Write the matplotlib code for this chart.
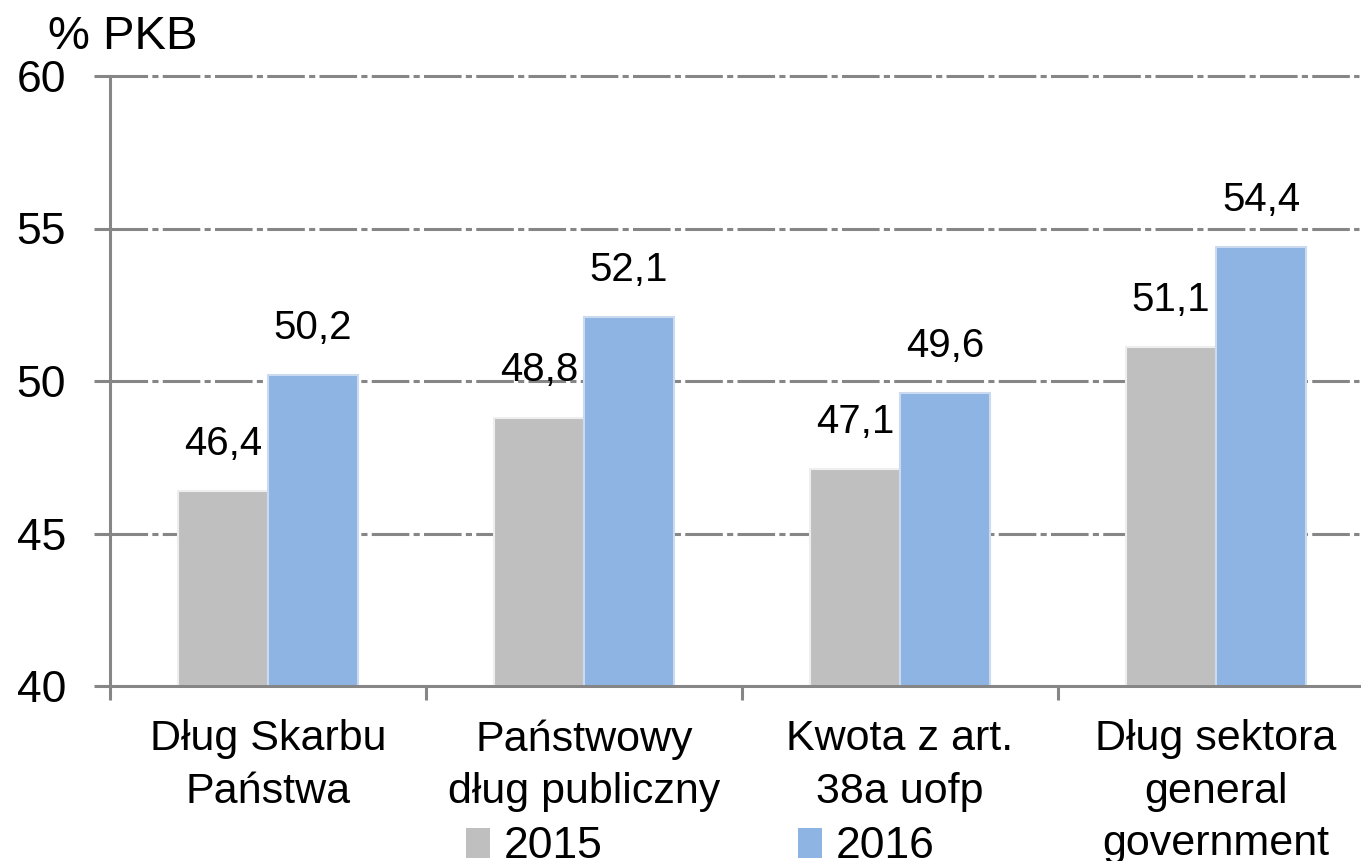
import numpy as np
import matplotlib.pyplot as plt
from matplotlib.patches import Patch

plt.rcParams['font.family'] = ['Liberation Sans', 'DejaVu Sans']

categories = ['Dług Skarbu\nPaństwa', 'Państwowy\ndług publiczny',
              'Kwota z art.\n38a uofp', 'Dług sektora\ngeneral\ngovernment']
v2015 = [46.4, 48.8, 47.1, 51.1]
v2016 = [50.2, 52.1, 49.6, 54.4]
lab2015 = ['46,4', '48,8', '47,1', '51,1']
lab2016 = ['50,2', '52,1', '49,6', '54,4']

c15 = '#BFBFBF'
c16 = '#8EB4E3'
gcol = '#868686'

fig = plt.figure(figsize=(13.61, 8.61), dpi=100)
ax = fig.add_axes([110/1361, 1-686/861, 1249/1361, 610/861])

x = np.arange(len(categories)) + 0.5
w = 0.285
ax.bar(x - w/2, np.array(v2015) - 40, w, bottom=40, color=c15,
       edgecolor='#EEEEEE', linewidth=1.5, zorder=3)
ax.bar(x + w/2, np.array(v2016) - 40, w, bottom=40, color=c16,
       edgecolor='#CCDAF0', linewidth=1.5, zorder=3)

for xi, v, t in zip(x - w/2, v2015, lab2015):
    ax.annotate(t, (xi, v), xytext=(0, 26), textcoords='offset points',
                ha='center', va='baseline', fontsize=29)
for xi, v, t in zip(x + w/2, v2016, lab2016):
    ax.annotate(t, (xi, v), xytext=(0, 26), textcoords='offset points',
                ha='center', va='baseline', fontsize=29)

ax.set_ylim(40, 60)
ax.set_xlim(0, 1249/316)
ax.set_yticks([40, 45, 50, 55, 60])
ax.set_xticks([0, 1, 2, 3])
ax.set_xticklabels([])
ax.set_xticks(x, minor=True)
ax.set_xticklabels(categories, minor=True, fontsize=31, linespacing=1.4)

ax.tick_params(axis='y', which='major', length=11.5, width=2.2, color=gcol,
               labelsize=32, pad=20)
ax.tick_params(axis='x', which='major', length=10, width=2.2, color=gcol)
ax.tick_params(axis='x', which='minor', length=0, pad=24)

# dash-dot grid
for yv in [45, 50, 55, 60]:
    ax.axhline(yv, color=gcol, linewidth=2.2, zorder=1,
               dashes=(12.3, 1.4, 2.0, 1.4), clip_on=False)

for s in ['top', 'right']:
    ax.spines[s].set_visible(False)
for s in ['left', 'bottom']:
    ax.spines[s].set_color(gcol)
    ax.spines[s].set_linewidth(2.2)
    ax.spines[s].set_zorder(4)

fig.text(48/1361, 1-49/861, '% PKB', fontsize=34, ha='left', va='baseline')

handles = [Patch(facecolor=c15, edgecolor='none', label='2015'),
           Patch(facecolor=c16, edgecolor='none', label='2016')]
fig.legend(handles=handles, loc='center', bbox_to_anchor=(700/1361, 1-847/861),
           ncol=2, frameon=False, fontsize=32, handlelength=0.55,
           handleheight=0.65, handletextpad=0.3, columnspacing=4.4,
           borderpad=0, borderaxespad=0)

fig.savefig('out.png', dpi=100)
